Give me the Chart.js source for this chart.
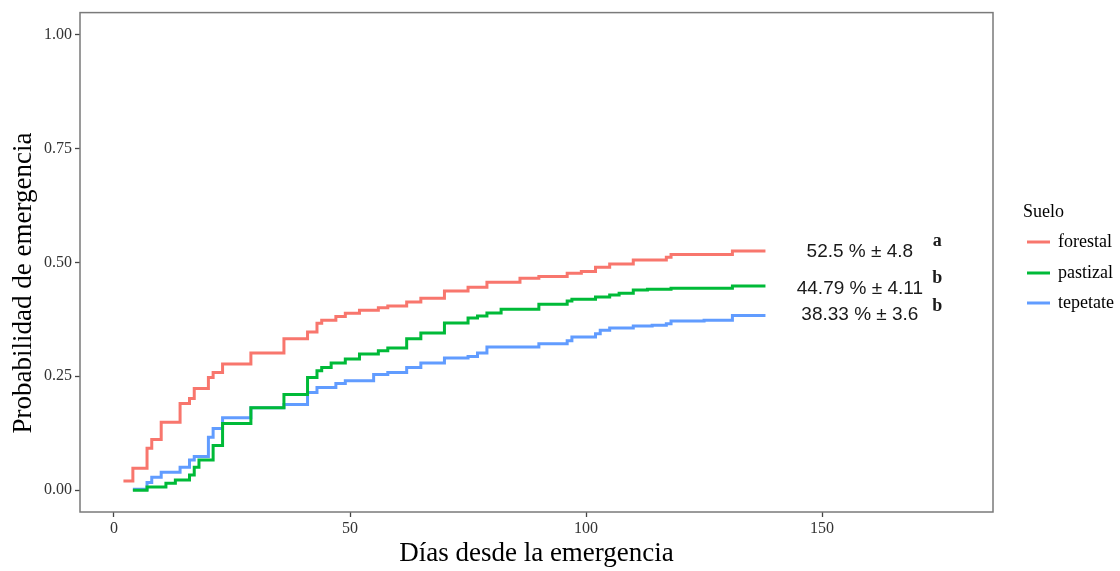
<!DOCTYPE html>
<html lang="es">
<head>
<meta charset="utf-8">
<title>Probabilidad de emergencia</title>
<script src="https://cdn.jsdelivr.net/npm/chart.js@4.4.1/dist/chart.umd.min.js"></script>
<style>
  html, body { margin: 0; padding: 0; background: #fff; }
  #wrap { width: 1120px; height: 571px; }
</style>
</head>
<body>
<div id="wrap"><canvas id="survChart" width="1120" height="571"></canvas></div>
<script>
// --- data ---
const seriesNames = ["forestal", "pastizal", "tepetate"];

const forestalDays = [2, 4, 7, 8, 10, 14, 16, 17, 20, 21, 23, 29, 36, 41, 43, 44, 47, 49, 52, 56,
  58, 62, 65, 70, 75, 79, 86, 90, 96, 99, 102, 105, 110, 117, 118, 131, 138];
const forestalProb = [0.020, 0.048, 0.092, 0.111, 0.149, 0.190, 0.201, 0.223, 0.247, 0.258,
  0.277, 0.301, 0.332, 0.347, 0.366, 0.373, 0.381, 0.388, 0.395, 0.400,
  0.404, 0.413, 0.421, 0.437, 0.445, 0.456, 0.465, 0.469, 0.476, 0.480,
  0.489, 0.496, 0.505, 0.511, 0.517, 0.525, 0.525];

const pastizalDays = [4, 7, 11, 13, 16, 17, 18, 21, 23, 29, 36, 41, 43, 44, 46, 49, 52, 56, 58, 62,
  65, 70, 75, 77, 79, 82, 90, 96, 97, 102, 105, 107, 110, 113, 118, 131, 138];
const pastizalProb = [0.000, 0.007, 0.015, 0.022, 0.033, 0.050, 0.066, 0.098, 0.146, 0.181,
  0.210, 0.247, 0.262, 0.269, 0.279, 0.288, 0.299, 0.306, 0.312, 0.332,
  0.345, 0.367, 0.378, 0.382, 0.389, 0.397, 0.408, 0.415, 0.419, 0.424,
  0.428, 0.432, 0.439, 0.441, 0.443, 0.448, 0.448];

const tepetateDays = [4, 7, 8, 10, 14, 16, 17, 20, 21, 23, 29, 36, 41, 43, 47, 49, 55, 58, 62, 65,
  70, 75, 77, 79, 90, 96, 97, 102, 103, 105, 110, 114, 117, 118, 125, 131, 138];
const tepetateProb = [0.002, 0.017, 0.028, 0.039, 0.050, 0.066, 0.074, 0.116, 0.135, 0.159,
  0.181, 0.188, 0.214, 0.225, 0.234, 0.240, 0.254, 0.258, 0.269, 0.279,
  0.290, 0.293, 0.301, 0.314, 0.321, 0.328, 0.336, 0.343, 0.351, 0.356,
  0.360, 0.362, 0.365, 0.371, 0.373, 0.383, 0.383];

const xTickValues = [0, 50, 100, 150];
const yTickValues = [0, 0.25, 0.5, 0.75, 1];

const finalLabels = ["52.5 % \u00b1 4.8", "44.79 % \u00b1 4.11", "38.33 % \u00b1 3.6"];
const groupLetters = ["a", "b", "b"];

// --- styling ---
const colors = ["#F8766D", "#00BA38", "#619CFF"];
const SERIF = "'Liberation Serif', 'Times New Roman', serif";
const SANS = "'Liberation Sans', Arial, sans-serif";

function toPoints(days, probs) {
  return days.map((d, i) => ({ x: d, y: probs[i] }));
}

const allDays = [forestalDays, pastizalDays, tepetateDays];
const allProbs = [forestalProb, pastizalProb, tepetateProb];

const datasets = seriesNames.map((name, i) => ({
  label: name,
  data: toPoints(allDays[i], allProbs[i]),
  borderColor: colors[i],
  backgroundColor: colors[i],
  borderWidth: 3,
  stepped: "before",
  pointRadius: 0,
  fill: false,
}));

// white background + panel border + labels + legend
const decorations = {
  id: "decorations",
  beforeDraw(chart) {
    const { ctx } = chart;
    ctx.save();
    ctx.fillStyle = "#ffffff";
    ctx.fillRect(0, 0, chart.width, chart.height);
    ctx.restore();
  },
  afterDraw(chart) {
    const { ctx, chartArea: a, scales } = chart;
    const xs = scales.x, ys = scales.y;
    ctx.save();

    // panel border
    ctx.strokeStyle = "#7a7a7a";
    ctx.lineWidth = 1.5;
    ctx.strokeRect(a.left, a.top, a.right - a.left, a.bottom - a.top);

    // final estimates next to the curves
    ctx.fillStyle = "#1a1a1a";
    ctx.font = "19px " + SANS;
    ctx.textAlign = "center";
    ctx.textBaseline = "middle";
    const labelY = [0.523, 0.443, 0.384];
    finalLabels.forEach((t, i) => {
      ctx.fillText(t, xs.getPixelForValue(158), ys.getPixelForValue(labelY[i]));
    });

    // significance letters
    ctx.font = "bold 18px " + SERIF;
    const letterY = [0.546, 0.465, 0.404];
    groupLetters.forEach((t, i) => {
      ctx.fillText(t, xs.getPixelForValue(174.4), ys.getPixelForValue(letterY[i]));
    });

    // y axis title
    ctx.save();
    ctx.translate(24, 283);
    ctx.rotate(-Math.PI / 2);
    ctx.fillStyle = "#000";
    ctx.font = "27px " + SERIF;
    ctx.fillText("Probabilidad de emergencia", 0, 0);
    ctx.restore();

    // legend
    ctx.textAlign = "left";
    ctx.fillStyle = "#000";
    ctx.font = "18px " + SERIF;
    ctx.fillText("Suelo", 1023, 212);
    const rowY = [242, 273, 303];
    seriesNames.forEach((name, i) => {
      ctx.strokeStyle = colors[i];
      ctx.lineWidth = 3;
      ctx.beginPath();
      ctx.moveTo(1027, rowY[i]);
      ctx.lineTo(1050, rowY[i]);
      ctx.stroke();
      ctx.fillStyle = "#000";
      ctx.fillText(name, 1058, rowY[i]);
    });

    ctx.restore();
  },
};

new Chart(document.getElementById("survChart"), {
  type: "line",
  data: { datasets },
  plugins: [decorations],
  options: {
    responsive: false,
    animation: false,
    devicePixelRatio: 1,
    layout: { padding: { top: 10, right: 127, left: 0, bottom: 0 } },
    plugins: {
      legend: { display: false },
      tooltip: { enabled: false },
    },
    scales: {
      x: {
        type: "linear",
        min: -7.2,
        max: 186.2,
        afterBuildTicks: (scale) => {
          scale.ticks = xTickValues.map((v) => ({ value: v }));
        },
        afterFit: (scale) => {
          scale.height = 59;
        },
        grid: {
          drawOnChartArea: false,
          drawTicks: true,
          tickLength: 5,
          tickColor: "#444",
          tickWidth: 1.3,
        },
        border: { display: false },
        ticks: {
          font: { family: SERIF, size: 16 },
          color: "#333",
          padding: 2,
          maxRotation: 0,
          callback: (v) => String(v),
        },
        title: {
          display: true,
          text: "D\u00edas desde la emergencia",
          font: { family: SERIF, size: 27 },
          color: "#000",
          padding: { top: 0, bottom: 1 },
        },
      },
      y: {
        type: "linear",
        min: -0.048,
        max: 1.048,
        afterBuildTicks: (scale) => {
          scale.ticks = yTickValues.map((v) => ({ value: v }));
        },
        afterFit: (scale) => {
          scale.width = 80;
        },
        grid: {
          drawOnChartArea: false,
          drawTicks: true,
          tickLength: 5,
          tickColor: "#444",
          tickWidth: 1.3,
        },
        border: { display: false },
        ticks: {
          font: { family: SERIF, size: 16 },
          color: "#333",
          padding: 3,
          callback: (v) => Number(v).toFixed(2),
        },
      },
    },
  },
});
</script>
</body>
</html>
